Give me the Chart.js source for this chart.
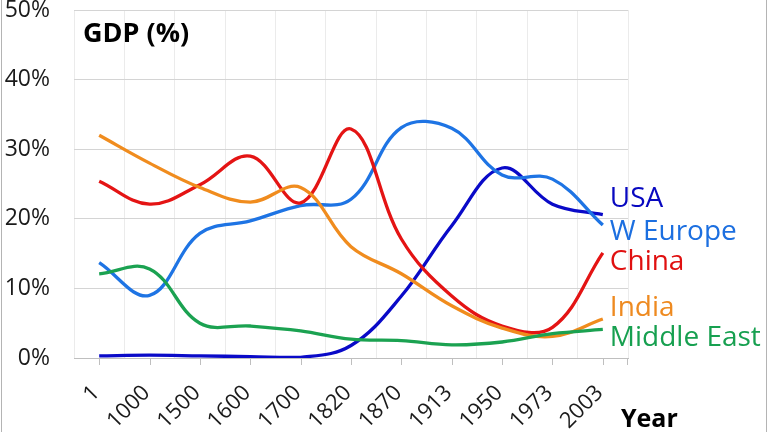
<!DOCTYPE html>
<html>
<head>
<meta charset="utf-8">
<script src="https://cdn.jsdelivr.net/npm/chart.js@4.4.1/dist/chart.umd.min.js"></script>
<style>
  html, body { margin: 0; padding: 0; background: #ffffff; }
  #wrap { width: 768px; height: 432px; }
</style>
</head>
<body>
<div id="wrap"><canvas id="c" width="768" height="432"></canvas></div>
<script>
const years = ['1', '1000', '1500', '1600', '1700', '1820', '1870', '1913', '1950', '1973', '2003'];
const usa        = [0.3, 0.4, 0.3, 0.2, 0.1, 1.8, 8.9, 19.0, 27.3, 22.1, 20.6];
const westEurope = [13.7, 9.0, 17.9, 19.7, 21.9, 22.8, 33.1, 33.0, 26.3, 25.7, 19.1];
const china      = [25.4, 22.1, 24.9, 29.0, 22.3, 32.9, 17.1, 8.9, 4.6, 4.4, 15.1];
const india      = [32.0, 28.0, 24.5, 22.4, 24.5, 16.0, 12.1, 7.5, 4.3, 3.1, 5.6];
const middleEast = [12.1, 12.8, 5.0, 4.6, 3.9, 2.7, 2.5, 1.9, 2.3, 3.5, 4.1];
const seriesNames = ['USA', 'W Europe', 'China', 'India', 'Middle East'];
const yTicks = [0, 10, 20, 30, 40, 50];

const colors = ['#0a0ac8', '#1e74e4', '#e41414', '#f08c1e', '#1ba251'];
const labelColors = ['#0808c0', '#1c6fe0', '#e01010', '#ee8a20', '#17a050'];
const labelAt = [22.8, 18.1, 13.8, 7.2, 2.9];

const FONT = "'Open Sans', 'Noto Sans', sans-serif";

const decor = {
  id: 'decor',
  afterDraw(chart) {
    const ctx = chart.ctx;
    const x = chart.scales.x, y = chart.scales.y;
    const area = chart.chartArea;
    ctx.save();
    // tick marks at category centers and right end
    ctx.strokeStyle = '#bfbfbf';
    ctx.lineWidth = 1;
    ctx.beginPath();
    for (let i = 0; i < years.length; i++) {
      const px = Math.round(x.getPixelForValue(i)) + 0.5;
      ctx.moveTo(px, area.bottom);
      ctx.lineTo(px, area.bottom + 7);
    }
    ctx.moveTo(Math.round(area.right) - 0.5, area.bottom);
    ctx.lineTo(Math.round(area.right) - 0.5, area.bottom + 7);
    ctx.stroke();
    // series labels
    ctx.font = "28px " + FONT;
    ctx.textBaseline = 'middle';
    ctx.textAlign = 'left';
    const lx = x.getPixelForValue(years.length - 1) + 7;
    seriesNames.forEach((n, i) => {
      ctx.fillStyle = labelColors[i];
      ctx.fillText(n, lx, y.getPixelForValue(labelAt[i]));
    });
    // title inside plot
    ctx.fillStyle = '#000000';
    ctx.font = "bold 27px " + FONT;
    ctx.textBaseline = 'middle';
    ctx.fillText('GDP (%)', area.left + 9, y.getPixelForValue(46.5));
    // axis title
    ctx.font = "bold 25px " + FONT;
    ctx.textBaseline = 'alphabetic';
    ctx.fillText('Year', area.right - 7, chart.height - 5);
    // side borders
    ctx.strokeStyle = '#b4b4b4';
    ctx.beginPath();
    ctx.moveTo(1.5, 0); ctx.lineTo(1.5, chart.height);
    ctx.moveTo(chart.width - 1.5, 0); ctx.lineTo(chart.width - 1.5, chart.height);
    ctx.stroke();
    ctx.restore();
  }
};

const datasets = [usa, westEurope, china, india, middleEast].map((d, i) => ({
  label: seriesNames[i],
  data: d,
  borderColor: colors[i],
  backgroundColor: colors[i],
  borderWidth: 3.3,
  pointRadius: 0,
  tension: 0.38,
  fill: false
}));
const ordered = [datasets[4], datasets[3], datasets[2], datasets[1], datasets[0]];

new Chart(document.getElementById('c'), {
  type: 'line',
  data: { labels: years, datasets: ordered },
  options: {
    responsive: false,
    animation: false,
    devicePixelRatio: 1,
    layout: { padding: { left: 0, right: 140, top: 0, bottom: 0 } },
    plugins: { legend: { display: false }, tooltip: { enabled: false }, title: { display: false } },
    scales: {
      x: {
        offset: true,
        grid: { offset: true, color: '#ebebeb', lineWidth: 1, drawTicks: false },
        border: { display: true, color: '#bfbfbf', width: 1 },
        ticks: {
          minRotation: 45, maxRotation: 45, padding: 22, labelOffset: -3,
          color: '#1a1a1a',
          font: { family: FONT, size: 22 }
        },
        afterFit(s) { s.height = 74; }
      },
      y: {
        min: 0, max: 50,
        afterBuildTicks(s) { s.ticks = yTicks.map(v => ({ value: v })); },
        grid: { color: '#d4d4d4', lineWidth: 1, drawTicks: false },
        border: { display: false },
        ticks: {
          padding: 24,
          color: '#1a1a1a',
          font: { family: FONT, size: 23 },
          callback: v => v + '%'
        },
        afterFit(s) { s.width = 74; s.paddingTop = 10; }
      }
    }
  },
  plugins: [decor]
});
</script>
</body>
</html>
